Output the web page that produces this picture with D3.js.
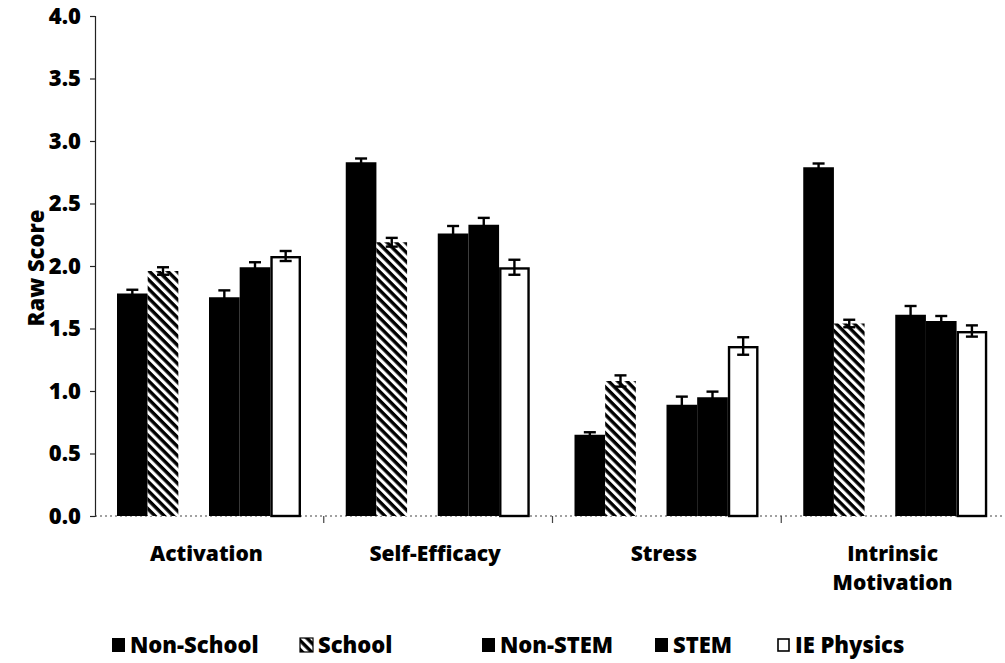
<!DOCTYPE html>
<html>
<head>
<meta charset="utf-8">
<script src="https://cdn.jsdelivr.net/npm/d3@7/dist/d3.min.js"></script>
<style>
  html, body { margin: 0; padding: 0; background: #fff; }
  svg { display: block; }
  text { font-family: "Open Sans", Lato, "DejaVu Sans", sans-serif; font-weight: 800; fill: #000; }
</style>
</head>
<body>
<svg id="chart" width="1005" height="663"></svg>
<script>
// Scale categories (last one split over two lines)
const categories = ["Activation", "Self-Efficacy", "Stress", "Intrinsic Motivation"];
const categoryLines = [["Activation"], ["Self-Efficacy"], ["Stress"], ["Intrinsic", "Motivation"]];

// Groups drawn inside each category; the empty slot separates the two comparisons
const seriesNames = ["Non-School", "School", "Non-STEM", "STEM", "IE Physics"];
const slotKeys = ["Non-School", "School", "", "Non-STEM", "STEM", "IE Physics"];

// Mean raw scores, one array per group (order follows categories)
const nonSchool = [1.78, 2.83, 0.65, 2.79];
const school    = [1.96, 2.19, 1.08, 1.54];
const nonStem   = [1.75, 2.26, 0.89, 1.61];
const stem      = [1.99, 2.33, 0.95, 1.56];
const iePhysics = [2.08, 1.99, 1.36, 1.48];

// Standard errors, same layout
const nonSchoolErr = [0.03, 0.03, 0.02, 0.03];
const schoolErr    = [0.03, 0.035, 0.045, 0.03];
const nonStemErr   = [0.055, 0.06, 0.065, 0.07];
const stemErr      = [0.04, 0.055, 0.045, 0.04];
const iePhysicsErr = [0.04, 0.06, 0.07, 0.045];

const yTicks = [0, 0.5, 1.0, 1.5, 2.0, 2.5, 3.0, 3.5, 4.0];
const yTitle = "Raw Score";

const values = [nonSchool, school, nonStem, stem, iePhysics];
const errors = [nonSchoolErr, schoolErr, nonStemErr, stemErr, iePhysicsErr];
const fills = ["#000", "url(#hatch)", "#000", "#000", "#fff"];

const rows = [];
categories.forEach((c, ci) => {
  seriesNames.forEach((s, si) => {
    rows.push({ cat: c, series: s, si, value: values[si][ci], err: errors[si][ci] });
  });
});

const svg = d3.select("#chart");

// Diagonal hatch: black ground with white stripes running top-left to bottom-right
const defs = svg.append("defs");
const pat = defs.append("pattern")
  .attr("id", "hatch")
  .attr("patternUnits", "userSpaceOnUse")
  .attr("width", 6.5).attr("height", 6.5)
  .attr("patternTransform", "rotate(-45)");
pat.append("rect").attr("width", 6.5).attr("height", 6.5).attr("fill", "#000");
pat.append("rect").attr("x", 0).attr("width", 3.1).attr("height", 6.5).attr("fill", "#fff");

const x0 = d3.scaleBand().domain(categories).range([95, 1010]).paddingInner(0).paddingOuter(0);
const x1 = d3.scaleBand().domain(slotKeys).range([22, 206]).padding(0);
const y = d3.scaleLinear().domain([0, 4]).range([516, 16]);

// Y axis
const yAxis = svg.append("g")
  .attr("transform", "translate(95,0)")
  .call(d3.axisLeft(y).tickValues(yTicks).tickFormat(d3.format(".1f")).tickSize(5).tickPadding(9));
yAxis.select(".domain").attr("stroke", "#222").attr("stroke-width", 1.2);
yAxis.selectAll(".tick line").attr("stroke", "#222").attr("stroke-width", 1.2);
yAxis.selectAll(".tick text")
  .style("font-size", "22px").style("font-family", "'Open Sans', sans-serif").style("font-weight", "800")
  .attr("fill", "#000");

// X axis baseline and category boundary ticks
svg.append("line")
  .attr("x1", 95).attr("x2", 1003)
  .attr("y1", y(0)).attr("y2", y(0))
  .attr("stroke", "#444").attr("stroke-width", 1.2).attr("stroke-dasharray", "2,3");
svg.append("g").selectAll("line")
  .data(categories.slice(1))
  .join("line")
  .attr("x1", d => x0(d)).attr("x2", d => x0(d))
  .attr("y1", y(0)).attr("y2", y(0) + 7)
  .attr("stroke", "#444").attr("stroke-width", 1.2);

// Bars
const bars = svg.append("g");
bars.selectAll("rect")
  .data(rows)
  .join("rect")
  .attr("x", d => x0(d.cat) + x1(d.series) + (d.si === 4 ? 1.2 : 0))
  .attr("y", d => y(d.value) + (d.si === 4 ? 1.2 : 0))
  .attr("width", d => x1.bandwidth() - (d.si === 4 ? 2.4 : 0))
  .attr("height", d => y(0) - y(d.value) - (d.si === 4 ? 1.2 : 0))
  .attr("fill", d => fills[d.si])
  .attr("stroke", d => d.si === 4 ? "#000" : "none")
  .attr("stroke-width", 2.4);

// Error bars
const eb = svg.append("g").attr("stroke", "#000").attr("stroke-width", 2.4);
const cx = d => x0(d.cat) + x1(d.series) + x1.bandwidth() / 2;
eb.selectAll("line.v")
  .data(rows).join("line").attr("class", "v")
  .attr("x1", cx).attr("x2", cx)
  .attr("y1", d => y(d.value + d.err)).attr("y2", d => y(d.value - d.err));
eb.selectAll("line.top")
  .data(rows).join("line").attr("class", "top")
  .attr("x1", d => cx(d) - 6).attr("x2", d => cx(d) + 6)
  .attr("y1", d => y(d.value + d.err)).attr("y2", d => y(d.value + d.err));
eb.selectAll("line.bot")
  .data(rows).join("line").attr("class", "bot")
  .attr("x1", d => cx(d) - 6).attr("x2", d => cx(d) + 6)
  .attr("y1", d => y(d.value - d.err)).attr("y2", d => y(d.value - d.err));

// Category labels
const catG = svg.append("g");
categories.forEach((c, ci) => {
  const cxCat = x0(c) + x0.bandwidth() / 2 - 3;
  const t = catG.append("text")
    .attr("x", cxCat)
    .attr("y", 561)
    .attr("text-anchor", "middle")
    .style("font-size", "21px");
  categoryLines[ci].forEach((line, li) => {
    t.append("tspan").attr("x", cxCat).attr("dy", li === 0 ? 0 : 29).text(line);
  });
});

// Y title
svg.append("text")
  .attr("transform", "translate(44,268) rotate(-90)")
  .attr("text-anchor", "middle")
  .style("font-size", "22px")
  .text(yTitle);

// Legend
const legendX = [112, 300, 482, 655, 777];
const leg = svg.append("g");
seriesNames.forEach((s, si) => {
  const g = leg.append("g").attr("transform", `translate(${legendX[si]},638)`);
  g.append("rect")
    .attr("x", si === 4 ? 1 : 0).attr("y", si === 4 ? 1 : 0)
    .attr("width", si === 4 ? 11 : 13).attr("height", si === 4 ? 12 : 14)
    .attr("fill", fills[si])
    .attr("stroke", si === 0 || si === 2 || si === 3 ? "none" : "#000")
    .attr("stroke-width", si === 4 ? 1.6 : 1.2);
  g.append("text").attr("x", 18).attr("y", 15).style("font-size", "22px").text(s);
});
</script>
</body>
</html>
